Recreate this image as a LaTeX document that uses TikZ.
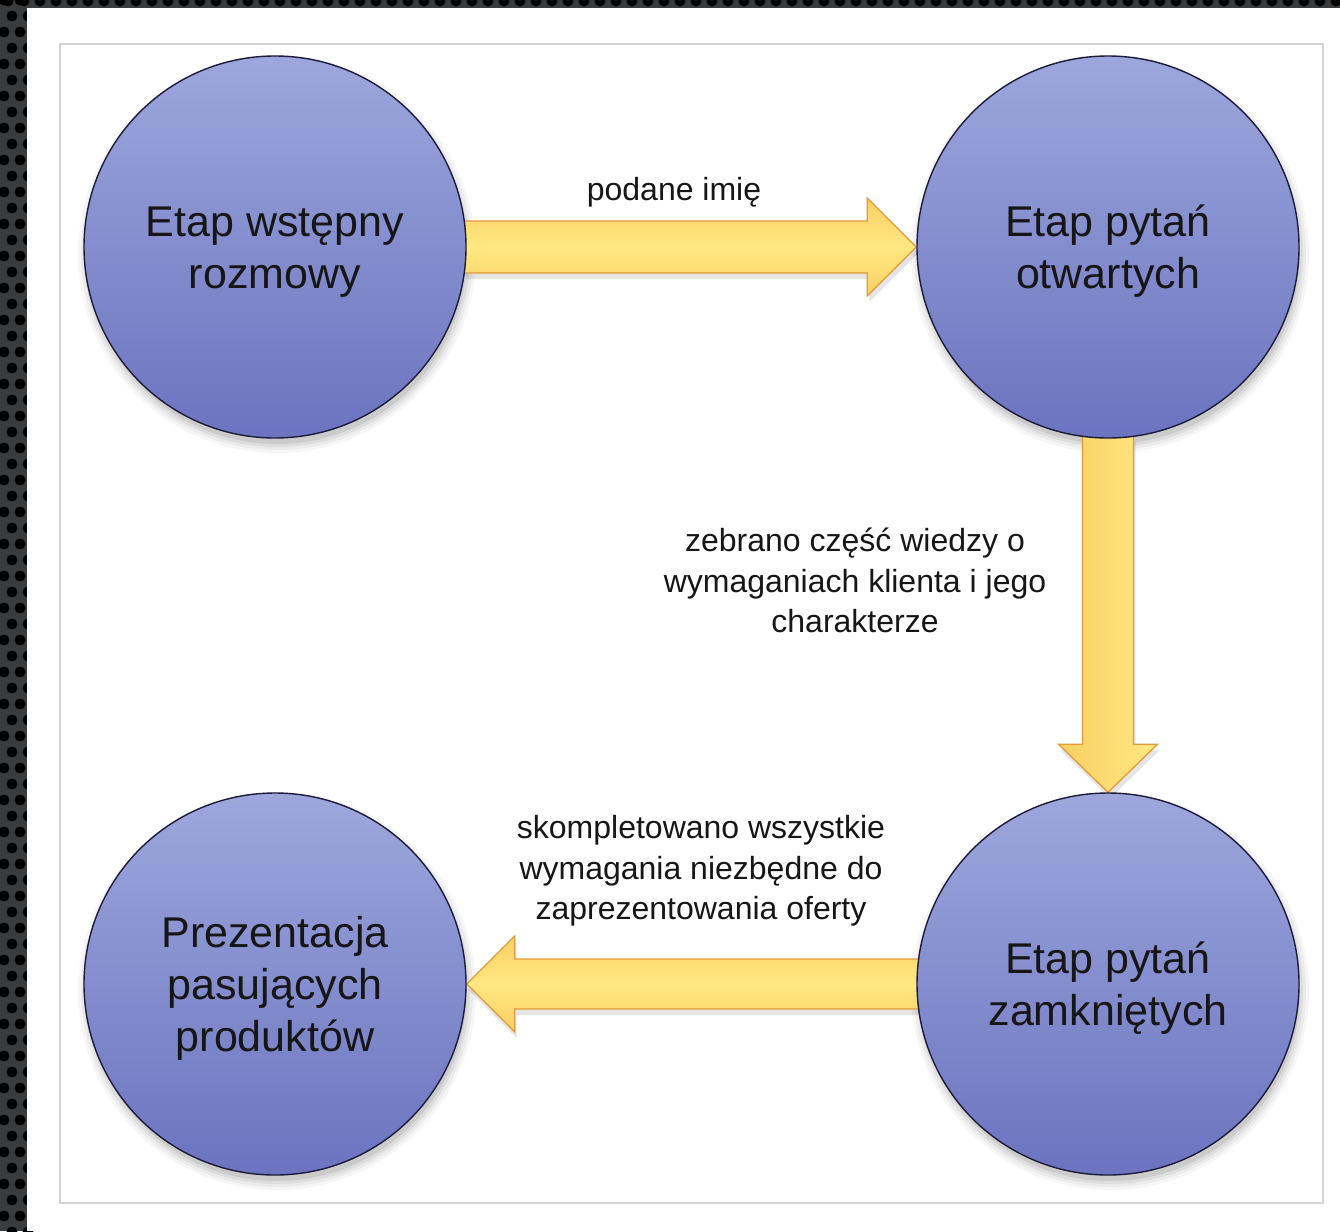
\documentclass[tikz,border=0pt]{standalone}
\usepackage{fontspec}
\setmainfont{Liberation Sans}
\usetikzlibrary{calc}
\pgfdeclarelayer{base}
\pgfdeclarelayer{back}
\pgfdeclarelayer{background}
\pgfsetlayers{base,back,background,main}
\definecolor{circtop}{HTML}{9DA7DC}
\definecolor{circbot}{HTML}{6C73C0}
\definecolor{circline}{HTML}{1B1B3A}
\definecolor{arrlight}{HTML}{FFE882}
\definecolor{arrdark}{HTML}{F8CF62}
\definecolor{arrline}{HTML}{E39A3B}
\definecolor{bgdark}{HTML}{3A3B3D}
\definecolor{panelline}{HTML}{D4D4D4}
\definecolor{txt}{HTML}{161616}
\begin{document}
\begin{tikzpicture}[x=1pt,y=-1pt,
  stage/.style={circle, draw=circline, line width=1.4pt, top color=circtop, bottom color=circbot, minimum size=382pt, inner sep=0pt},
  stagetext/.style={align=center, text=txt, font=\fontsize{43}{52}\selectfont},
  edgetext/.style={align=center, text=txt, font=\fontsize{32}{40.5}\selectfont},
  blockarrow/.style={draw=arrline, line width=1.3pt, line join=miter,
    preaction={fill=black, opacity=0.10, transform canvas={shift={(2,6)}}}},
]
\useasboundingbox (0,0) rectangle (1340,1231);
\begin{pgfonlayer}{base}
% textured dark frame
\fill[bgdark] (0,0) rectangle (1340,1231);
\foreach \r in {0,...,77}{
  \foreach \cc in {0,1}{
    \fill[black] ({4+\cc*16+mod(\r,2)*8},{\r*16}) circle (5.5);
  }
}
\foreach \cc in {0,...,84}{
  \fill[black] ({\cc*16+8},1) circle (5.5);
}
\fill[white] (27,8) rectangle (1340,1231);
% panel
\draw[panelline, line width=1.5pt] (60,44) rectangle (1323,1203);
\end{pgfonlayer}

% stages
\node[stage] (c1) at (275,247) {};
\node[stage] (c2) at (1108,247) {};
\node[stage] (c3) at (1108,984) {};
\node[stage] (c4) at (275,984) {};

\node[stagetext] (t1) at ($(c1)+(0,5)$) {\strut Etap wstępny\\rozmowy\strut};
\node[stagetext] (t2) at ($(c2)+(0,5)$) {\strut Etap pytań\\otwartych\strut};
\node[stagetext] (t3) at ($(c3)+(0,5)$) {\strut Etap pytań\\zamkniętych\strut};
\node[stagetext] (t4) at ($(c4)+(0,5)$) {\strut Prezentacja\\pasujących\\produktów\strut};

% shadows of stages
\begin{pgfonlayer}{back}
\foreach \c in {c1,c2,c3,c4}{
  \foreach \rr/\op in {199/0.035,196/0.045,193/0.06,190/0.08}{
    \fill[black, opacity=\op] ($(\c)+(2,7)$) circle (\rr);
  }
}
\end{pgfonlayer}

% block arrows
\begin{pgfonlayer}{background}
\draw[blockarrow, top color=arrdark, bottom color=arrdark, middle color=arrlight]
  ($(c1.east)+(-3,-26)$) -- ($(c2.west)+(-49,-26)$) -- ($(c2.west)+(-49,-49)$) -- (c2.west)
  -- ($(c2.west)+(-49,49)$) -- ($(c2.west)+(-49,26)$) -- ($(c1.east)+(-3,26)$) -- cycle;
\draw[blockarrow, left color=arrdark, right color=arrlight]
  ($(c2.south)+(-25.5,-3)$) -- ($(c3.north)+(-25.5,-48)$) -- ($(c3.north)+(-49.5,-48)$) -- (c3.north)
  -- ($(c3.north)+(49.5,-48)$) -- ($(c3.north)+(25.5,-48)$) -- ($(c2.south)+(25.5,-3)$) -- cycle;
\draw[blockarrow, top color=arrdark, bottom color=arrdark, middle color=arrlight]
  ($(c3.west)+(3,-25)$) -- ($(c4.east)+(48,-25)$) -- ($(c4.east)+(48,-48)$) -- (c4.east)
  -- ($(c4.east)+(48,48)$) -- ($(c4.east)+(48,25)$) -- ($(c3.west)+(3,25)$) -- cycle;
\end{pgfonlayer}

% edge labels
\node[edgetext] (e1) at (674,192) {\strut podane imię\strut};
\node[edgetext] (e2) at (855,584) {\strut zebrano część wiedzy o\\wymaganiach klienta i jego\\charakterze\strut};
\node[edgetext] (e3) at (701,871) {\strut skompletowano wszystkie\\wymagania niezbędne do\\zaprezentowania oferty\strut};
\end{tikzpicture}
\end{document}
